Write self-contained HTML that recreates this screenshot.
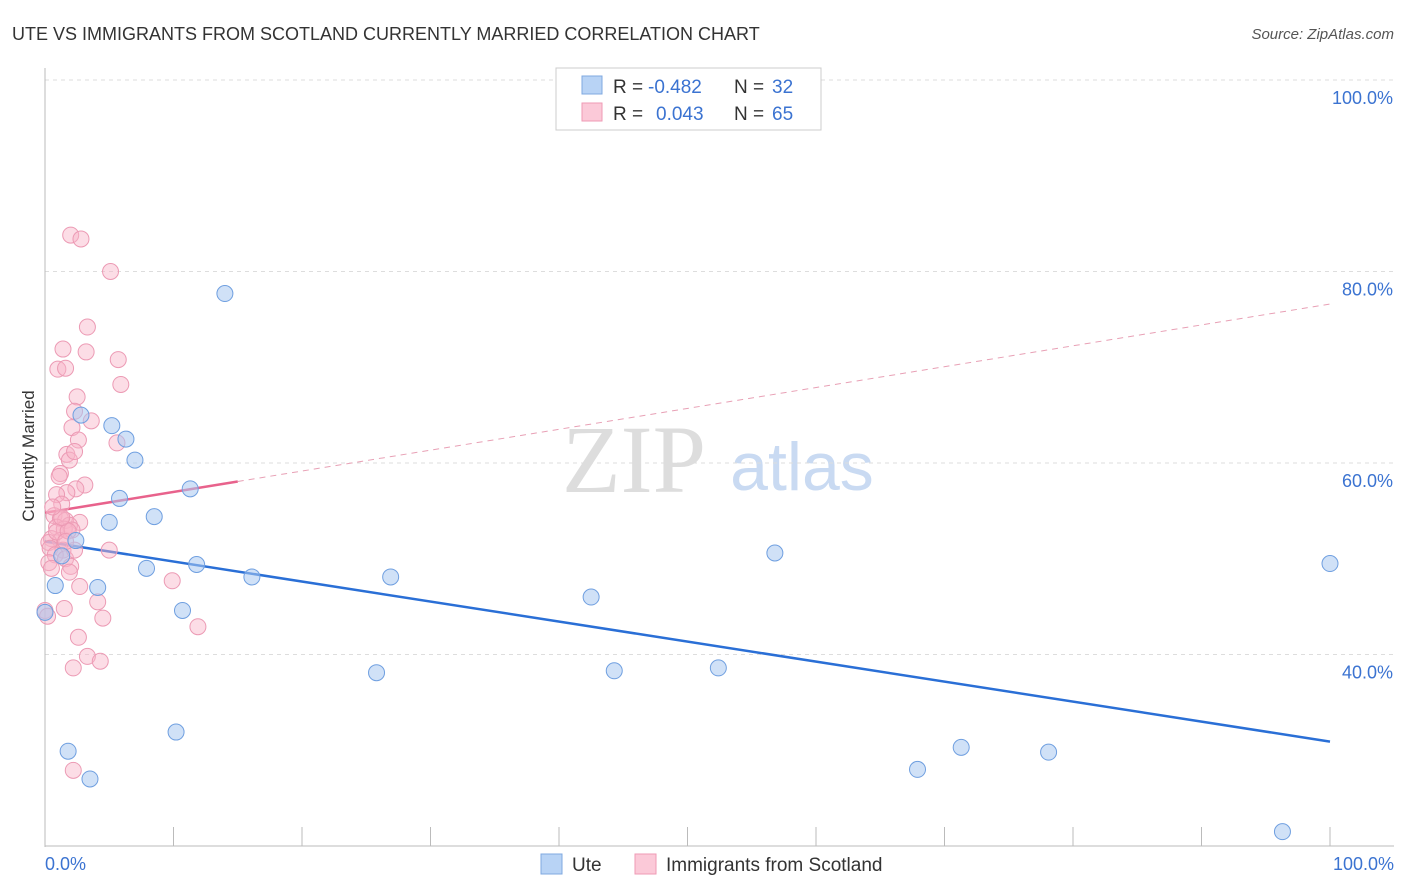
<!DOCTYPE html>
<html><head><meta charset="utf-8"><style>
body{margin:0;background:#fff;font-family:"Liberation Sans",sans-serif;}
svg{display:block}
</style></head><body>
<svg width="1406" height="892" xmlns="http://www.w3.org/2000/svg">
<text x="12" y="40" font-size="18" fill="#333">UTE VS IMMIGRANTS FROM SCOTLAND CURRENTLY MARRIED CORRELATION CHART</text>
<text x="1394" y="39" font-size="15" fill="#555" font-style="italic" text-anchor="end">Source: ZipAtlas.com</text>
<text x="634" y="492" font-size="96" fill="#ddd" font-family="Liberation Serif,serif" text-anchor="middle">ZIP</text>
<text x="802" y="490" font-size="68" fill="#c9daf2" text-anchor="middle">atlas</text>
<g id="grid"></g>
<line x1="45" y1="68" x2="45" y2="847" stroke="#bbb"/>
<line x1="45" y1="846" x2="1394" y2="846" stroke="#bbb"/>
<text x="34" y="456" font-size="17" fill="#333" text-anchor="middle" transform="rotate(-90 34 456)">Currently Married</text>
<text x="45" y="870" font-size="18" fill="#3b73d1">0.0%</text>
<text x="1394" y="870" font-size="18" fill="#3b73d1" text-anchor="end">100.0%</text>
<g id="ticks"></g>
<g id="lines"></g>
<g id="points"></g>
<g>
<rect x="556" y="68" width="265" height="62" fill="#fff" stroke="#ccc"/>
<rect x="582" y="76" width="20" height="18" fill="#b8d3f5" stroke="#7fa8e0"/>
<rect x="582" y="103" width="20" height="18" fill="#fbc9d8" stroke="#ef9ab5"/>
<text y="93" font-size="19" fill="#333"><tspan x="613">R =</tspan><tspan x="648" fill="#3b73d1">-0.482</tspan><tspan x="734">N =</tspan><tspan x="772" fill="#3b73d1">32</tspan></text>
<text y="120" font-size="19" fill="#333"><tspan x="613">R =</tspan><tspan x="656" fill="#3b73d1">0.043</tspan><tspan x="734">N =</tspan><tspan x="772" fill="#3b73d1">65</tspan></text>
</g>
<g>
<rect x="541" y="854" width="21" height="20" fill="#b8d3f5" stroke="#7fa8e0"/>
<text x="572" y="871" font-size="19" fill="#333">Ute</text>
<rect x="635" y="854" width="21" height="20" fill="#fbc9d8" stroke="#ef9ab5"/>
<text x="666" y="871" font-size="19" fill="#333">Immigrants from Scotland</text>
</g>
</svg>
<script>
const yTicks=[40,60,80,100];
const xTicks=[0,10,20,30,40,50,60,70,80,90,100];
const uteX=[2.8,5.2,6.3,7.0,5.8,5.0,8.5,11.3,2.4,0.8,4.1,7.9,11.8,16.1,14.0,10.7,26.9,42.5,56.8,100,25.8,44.3,52.4,10.2,1.8,3.5,67.9,71.3,78.1,96.3,0,1.3];
const uteY=[65.0,63.9,62.5,60.3,56.3,53.8,54.4,57.3,51.9,47.2,47.0,49.0,49.4,48.1,77.7,44.6,48.1,46.0,50.6,49.5,38.1,38.3,38.6,31.9,29.9,27.0,28.0,30.3,29.8,21.5,44.4,50.3];
const scoX=[2.0,2.8,5.1,3.3,1.4,3.2,5.7,1.0,1.6,5.9,2.5,2.3,3.6,2.1,5.6,2.6,1.7,1.9,2.3,1.2,1.1,3.1,2.4,1.7,0.9,1.3,0.7,1.2,1.6,2.7,1.9,0.9,1.5,2.1,0.5,1.2,0.3,0.4,1.4,5.0,0.8,1.6,0.3,2.0,0.5,2.7,9.9,4.1,1.5,0,4.5,11.9,2.6,3.3,4.3,2.2,2.2,0.2,0.9,1.8,1.3,0.6,2.3,1.6,1.9];
const scoY=[83.8,83.4,80.0,74.2,71.9,71.6,70.8,69.8,69.9,68.2,66.9,65.4,64.4,63.7,62.1,62.4,60.9,60.3,61.2,58.9,58.6,57.7,57.3,56.9,56.7,55.7,54.5,54.2,54.0,53.8,53.5,53.3,53.1,53.0,52.1,51.9,51.7,51.1,50.9,50.9,50.4,50.0,49.6,49.2,49.0,47.1,47.7,45.5,44.8,44.6,43.8,42.9,41.8,39.8,39.3,38.6,27.9,44.0,52.8,52.9,54.3,55.4,50.9,51.8,48.6];
const uteFit=[51.8,30.9];   // y at x=0 and x=100
const scoFit=[54.8,76.6];   // y at x=0 and x=100
const scoSolidEnd=15;
const NS="http://www.w3.org/2000/svg";
const X=v=>45+v*12.85, Y=v=>80+(100-v)*9.575;
function mk(t,a,p){const e=document.createElementNS(NS,t);for(const k in a)e.setAttribute(k,a[k]);p.appendChild(e);return e;}
const grid=document.getElementById('grid'),ticks=document.getElementById('ticks');
yTicks.forEach(t=>{
 const l=mk('line',{x1:45,x2:1394,y1:Y(t),y2:Y(t),stroke:'#ddd','stroke-dasharray':'4 4'},grid);
 
 
 const tx=mk('text',{x:1393,y:Y(t)+24,'font-size':18,fill:'#3b73d1','text-anchor':'end'},ticks);
 tx.textContent=t.toFixed(1)+'%';
 
 
});
xTicks.forEach(t=>{
 const l=mk('line',{x1:X(t),x2:X(t),y1:827,y2:846,stroke:'#bbb'},ticks);
 
 
});
const lines=document.getElementById('lines');
const f=(fit,x)=>fit[0]+(fit[1]-fit[0])*x/100;
let l1=mk('line',{x1:X(0),y1:Y(f(uteFit,0)),x2:X(100),y2:Y(f(uteFit,100)),stroke:'#2a6fd6','stroke-width':2.5},lines);


let l2=mk('line',{x1:X(0),y1:Y(f(scoFit,0)),x2:X(scoSolidEnd),y2:Y(f(scoFit,scoSolidEnd)),stroke:'#e8628c','stroke-width':2.5},lines);


let l3=mk('line',{x1:X(scoSolidEnd),y1:Y(f(scoFit,scoSolidEnd)),x2:X(100),y2:Y(f(scoFit,100)),stroke:'#e8a0b5','stroke-width':1,'stroke-dasharray':'6 5'},lines);


const pts=document.getElementById('points');
scoX.forEach((x,i)=>{
 const c=mk('circle',{cx:X(x),cy:Y(scoY[i]),r:8,fill:'rgba(248,180,200,0.45)',stroke:'#ec9ab4','stroke-width':1},pts);
 
 
});
uteX.forEach((x,i)=>{
 const c=mk('circle',{cx:X(x),cy:Y(uteY[i]),r:8,fill:'rgba(170,200,240,0.55)',stroke:'#6f9fe0','stroke-width':1},pts);
 
 
});
</script>
</body></html>
